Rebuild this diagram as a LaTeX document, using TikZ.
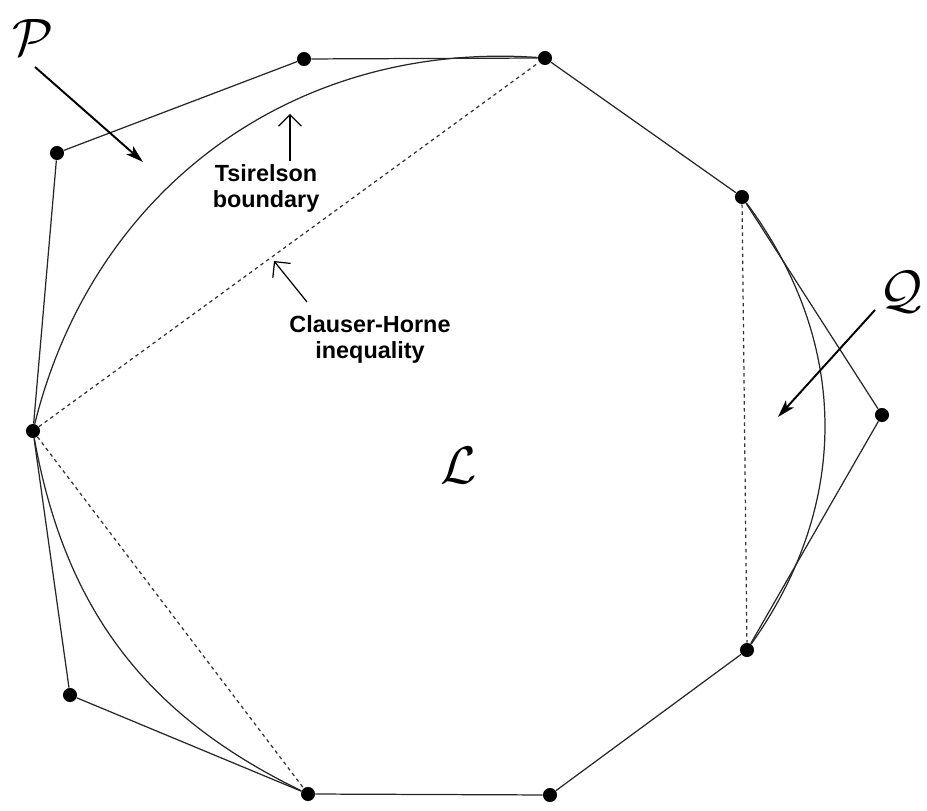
\documentclass[tikz,border=0pt]{standalone}
\usepackage{fontspec}
\newfontfamily\notefont{Liberation Sans}
\usepackage{tikz}
\usetikzlibrary{arrows.meta}
\tikzset{
  vdot/.style={circle, fill=black, inner sep=0pt, minimum size=8pt},
  hull/.style={line width=0.7pt, black!85},
  chord/.style={line width=0.7pt, black!80, dash pattern=on 2pt off 2pt},
  bound/.style={line width=0.7pt, black!85},
  setname/.style={scale=3, inner sep=0pt},
  setarrow/.style={-{Stealth[length=10pt,width=6pt,inset=2.5pt]}, line width=1.1pt},
  notearrow/.style={-{Straight Barb[length=6.5pt,width=13pt]}, line width=0.7pt},
  note/.style={align=center, inner sep=0pt, font=\notefont\bfseries\fontsize{13.3}{14.3}\selectfont}
}
\begin{document}
\begin{tikzpicture}
  \useasboundingbox (0,0) rectangle (18.54,16.2);
  % vertices of the outer polytope
  \node[vdot] (nw) at (1.14,13.14) {};
  \node[vdot] (n1) at (6.08,15.02) {};
  \node[vdot] (n2) at (10.90,15.04) {};
  \node[vdot] (ne) at (14.84,12.26) {};
  \node[vdot] (e) at (17.64,7.90) {};
  \node[vdot] (se) at (14.94,3.20) {};
  \node[vdot] (s2) at (11.00,0.30) {};
  \node[vdot] (s1) at (6.16,0.32) {};
  \node[vdot] (sw) at (1.40,2.30) {};
  \node[vdot] (w) at (0.66,7.58) {};
  \draw[hull] (nw)--(n1)--(n2)--(ne)--(e)--(se)--(s2)--(s1)--(sw)--(w)--(nw);

  % facets and curved boundary
  \draw[chord] (w)--(n2);
  \draw[chord] (w)--(s1);
  \draw[chord] (ne)--(se);
  \draw[bound] (w) to[bend left=40] (n2);
  \draw[bound] (w) to[bend right=27] (s1);
  \draw[bound] (ne) to[bend left=36] (se);

  % set names
  \node[setname] (P) at (0.66,15.45) {$\mathcal{P}$};
  \node[setname] (Q) at (18.02,10.36) {$\mathcal{Q}$};
  \node[setname] (L) at (9.18,6.90) {$\mathcal{L}$};
  \coordinate (pfrom) at (0.70,14.86); \coordinate (pto) at (2.86,12.96);
  \draw[setarrow] (pfrom)--(pto);
  \coordinate (qfrom) at (17.50,10.00); \coordinate (qto) at (15.56,7.86);
  \draw[setarrow] (qfrom)--(qto);

  % notes
  \node[note] (tsb) at (5.32,12.43) {Tsirelson\\boundary};
  \coordinate (tsbfrom) at (5.80,12.98); \coordinate (tsbto) at (5.80,13.92);
  \draw[notearrow] (tsbfrom)--(tsbto);
  \node[note] (chi) at (7.40,9.41) {Clauser-Horne\\inequality};
  \coordinate (chifrom) at (6.14,10.16); \coordinate (chito) at (5.48,10.98);
  \draw[notearrow] (chifrom)--(chito);
\end{tikzpicture}
\end{document}
